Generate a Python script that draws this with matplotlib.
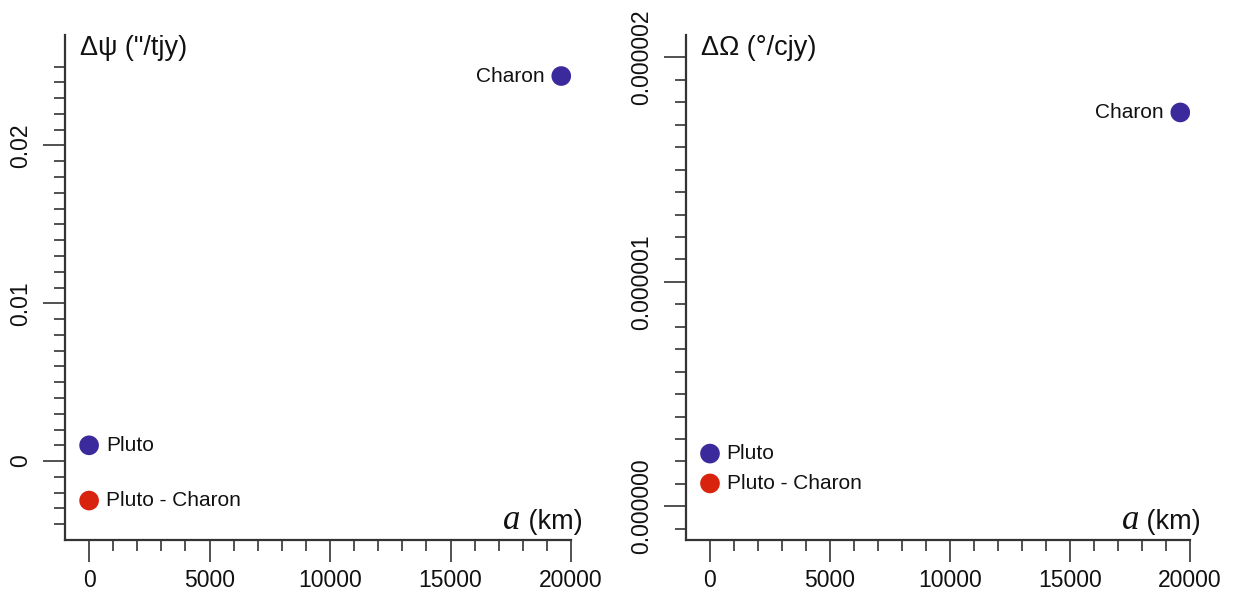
import numpy as np
import matplotlib
matplotlib.use("Agg")
import matplotlib.pyplot as plt

# Datos
nombres = ["Pluto", "Pluto - Charon", "Charon"]
colores = ["#3b2a9c", "#d8240f", "#3b2a9c"]
a_km = [0, 0, 19596]
d_psi = [0.001, -0.0025, 0.0244]          # "/tjy
d_omega = [2.35e-7, 1.02e-7, 1.755e-6]    # °/cjy

x_ticks = [0, 5000, 10000, 15000, 20000]
psi_ticks = [0, 0.01, 0.02]
psi_labels = ["0", "0.01", "0.02"]
omega_ticks = [0, 1e-6, 2e-6]
omega_labels = ["0.000000", "0.000001", "0.000002"]

plt.rcParams['font.family'] = ['Liberation Sans', 'DejaVu Sans']
gris = "#333333"
negro = "#111111"

fig = plt.figure(figsize=(12.34, 5.99), dpi=100)
ax1 = fig.add_axes([65/1234, 1-540/599, (571-65)/1234, (540-35)/599])
ax2 = fig.add_axes([686/1234, 1-540/599, (1190-686)/1234, (540-35)/599])


def estilo(ax, yticks, ylabels, ymin_ticks, ystep, ylim, titulo):
    ax.set_xlim(-1000, 20000)
    ax.set_ylim(*ylim)
    for s in ["top", "right"]:
        ax.spines[s].set_visible(False)
    for s in ["left", "bottom"]:
        ax.spines[s].set_linewidth(1.6)
        ax.spines[s].set_color(gris)
    ax.set_xticks(x_ticks)
    ax.set_xticks(np.arange(0, 20001, 1000), minor=True)
    ax.set_yticks(yticks)
    ax.set_yticklabels(ylabels, rotation=90, va="center")
    ax.set_yticks(np.arange(ymin_ticks[0], ymin_ticks[1] + ystep / 2, ystep), minor=True)
    ax.tick_params(which="major", length=16, width=1.2, color=gris, labelsize=16.5,
                   labelcolor=negro)
    ax.tick_params(which="minor", length=8, width=1.2, color=gris)
    ax.tick_params(axis="x", pad=5)
    ax.tick_params(axis="y", pad=8)
    ax.text(0.03, 0.975, titulo, transform=ax.transAxes, fontsize=19.5,
            ha="left", va="center", color=negro)
    # etiqueta del eje x: "a" en cursiva serif + "(km)"
    km = ax.text(1.022, 0.035, " (km)", transform=ax.transAxes, fontsize=19.5,
                 ha="right", va="center", color=negro)
    ax.annotate("a", xy=(0, -0.06), xycoords=km, ha="right", va="bottom",
                fontsize=25, family="Liberation Serif", style="italic", color=negro)


def puntos(ax, ys):
    for n, c, x, y in zip(nombres, colores, a_km, ys):
        ax.scatter([x], [y], s=200, color=c, zorder=3, edgecolors="none")
        if n == "Charon":
            ax.annotate(n, (x, y), xytext=(-12, 0), textcoords="offset points",
                        ha="right", va="center", fontsize=15, color=negro)
        else:
            ax.annotate(n, (x, y), xytext=(12, 0), textcoords="offset points",
                        ha="left", va="center", fontsize=15, color=negro)


estilo(ax1, psi_ticks, psi_labels, (-0.004, 0.025), 0.001, (-0.005, 0.027),
       "Δψ (\"/tjy)")
puntos(ax1, d_psi)

estilo(ax2, omega_ticks, omega_labels, (-1e-7, 2e-6), 1e-7, (-1.5e-7, 2.1e-6),
       "ΔΩ (°/cjy)")
puntos(ax2, d_omega)

fig.savefig("out.png", dpi=100)
